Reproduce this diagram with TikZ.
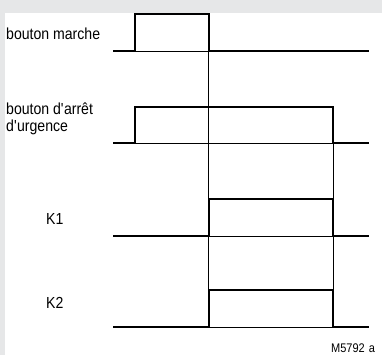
\documentclass[tikz,border=0pt]{standalone}
\usepackage{fontspec}
\setmainfont{Liberation Sans}[FakeStretch=0.88]
\usetikzlibrary{positioning}
\definecolor{bgray}{HTML}{E6E7E8}

\begin{document}
\begin{tikzpicture}[x=1pt,y=-1pt,
  lbl/.style={anchor=base west,inner sep=0pt,font=\fontsize{16}{17.5}\selectfont,align=left},
  sig/.style={line width=2pt,line join=miter},
  guide/.style={line width=0.6pt}]
\fill[bgray] (0,0) rectangle (382,355);
\fill[white] (5,13) rectangle (382,355);
\useasboundingbox (0,0) rectangle (382,355);
% labels
\node[lbl] (bm) at (6,40) {bouton marche};
\node[lbl] (bau) at (6,132) {bouton d\textquotesingle arr\^et\\d\textquotesingle urgence};
\node[lbl] (k1) at (46,224) {K1};
\node[lbl] (k2) at (46,308) {K2};
\node[lbl,font=\fontsize{12.5}{13}\selectfont] (ref) at (331,352) {M5792\,\,a};
% thin guides
\draw[guide] (208.5,14) -- (208.5,290);
\draw[guide] (333,107) -- (333,290);
\draw[guide] (135,51) -- (209,51);
\draw[guide] (135,143) -- (333,143);
\draw[guide] (208.5,236) -- (333,236);
\draw[guide] (208.5,327) -- (333,327);
% signals
\draw[sig] (113,51) -- (135,51) -- (135,14) -- (208.5,14) -- (208.5,51) -- (369,51);
\draw[sig] (113,143) -- (135,143) -- (135,107) -- (333,107) -- (333,143) -- (369,143);
\draw[sig] (113,236) -- (208.5,236) -- (208.5,199) -- (333,199) -- (333,236) -- (369,236);
\draw[sig] (113,327) -- (208.5,327) -- (208.5,290) -- (333,290) -- (333,327) -- (369,327);
\end{tikzpicture}
\end{document}
